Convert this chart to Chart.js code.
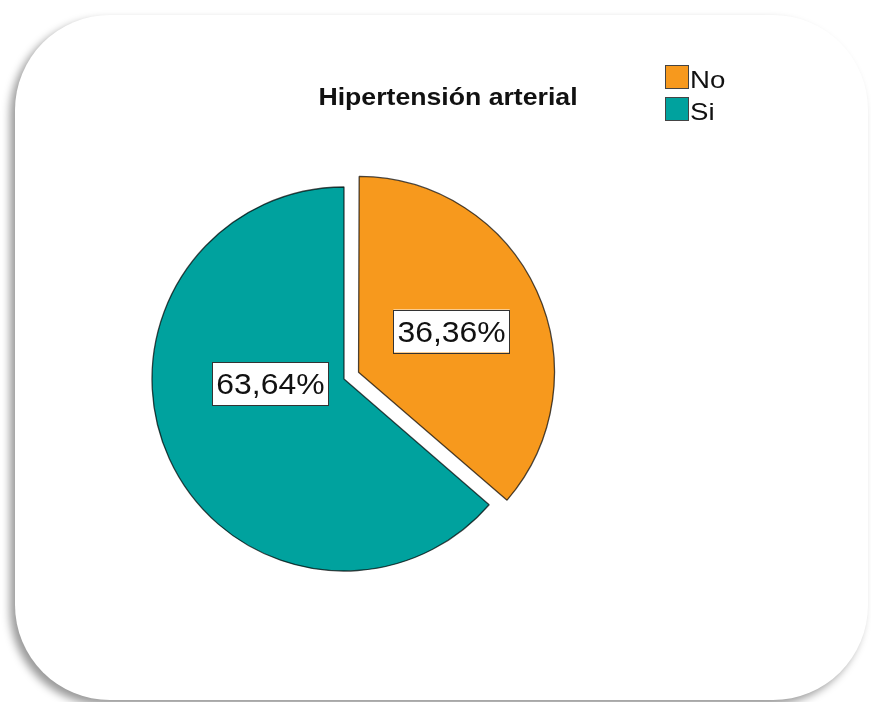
<!DOCTYPE html>
<html>
<head>
<meta charset="utf-8">
<script src="https://cdn.jsdelivr.net/npm/chart.js@4/dist/chart.umd.min.js"></script>
<style>
  html, body { margin: 0; padding: 0; background: #fff; }
  #card {
    position: absolute; left: 15px; top: 15px;
    width: 853px; height: 685px;
    border-radius: 95px; background: #fff;
    box-shadow: -5px 5px 9px rgba(0, 0, 0, 0.4);
  }
  #piechart { position: absolute; left: 0; top: 0; }
</style>
</head>
<body>
<div id="card"></div>
<canvas id="piechart" width="871" height="702"></canvas>
<script>
const titulo = 'Hipertensión arterial';
const categorias = ['No', 'Si'];
const porcentajes = [36.36, 63.64];
const colores = ['#f7991d', '#00a29e'];

// where each percentage box sits, relative to the pie centre (in radii)
const posEtiquetas = [[0.56, -0.25], [-0.383, 0.026]];

const fuente = '"Liberation Sans", Arial, sans-serif';

function texto(ctx, txt, x, y, font, sx, align) {
  ctx.save();
  ctx.font = font;
  ctx.translate(x, y);
  ctx.scale(sx, 1);
  ctx.textAlign = align;
  ctx.textBaseline = 'alphabetic';
  ctx.fillStyle = '#111';
  ctx.fillText(txt, 0, 0);
  ctx.restore();
}

const extras = {
  id: 'extras',
  afterDraw(chart) {
    const ctx = chart.ctx;
    const meta = chart.getDatasetMeta(0);
    const cx = (chart.chartArea.left + chart.chartArea.right) / 2;
    const cy = (chart.chartArea.top + chart.chartArea.bottom) / 2;
    const r = meta.data[0].outerRadius;

    // percentage boxes
    porcentajes.forEach((v, i) => {
      const txt = v.toFixed(2).replace('.', ',') + '%';
      const font = '29px ' + fuente;
      ctx.font = font;
      const w = ctx.measureText(txt).width * 1.1 + 8;
      const h = 43;
      const x = cx + posEtiquetas[i][0] * r;
      const y = cy + posEtiquetas[i][1] * r;
      ctx.fillStyle = '#fff';
      ctx.fillRect(x - w / 2, y - h / 2, w, h);
      ctx.strokeStyle = '#333';
      ctx.lineWidth = 1;
      ctx.strokeRect(Math.round(x - w / 2) + 0.5, Math.round(y - h / 2) + 0.5, Math.round(w), h);
      texto(ctx, txt, x, y + 10.5, font, 1.1, 'center');
    });

    // title
    texto(ctx, titulo, 448, 105, 'bold 24px ' + fuente, 1.11, 'center');

    // legend
    categorias.forEach((c, i) => {
      const y = 65 + i * 32;
      ctx.fillStyle = colores[i];
      ctx.fillRect(665, y, 23, 23);
      ctx.strokeStyle = '#444';
      ctx.lineWidth = 1;
      ctx.strokeRect(665.5, y + 0.5, 23, 23);
      texto(ctx, c, 690, y + 22.5, '24px ' + fuente, 1.15, 'left');
    });
  }
};

const ctx = document.getElementById('piechart');
new Chart(ctx, {
  type: 'pie',
  data: {
    labels: categorias,
    datasets: [{
      data: porcentajes,
      backgroundColor: colores,
      borderColor: 'rgba(0,0,0,0.7)',
      borderWidth: 1.3,
      offset: [64, 0]
    }]
  },
  options: {
    responsive: false,
    animation: false,
    events: [],
    radius: 192,
    layout: { padding: { left: 0, right: 183, top: 56, bottom: 0 } },
    plugins: {
      legend: { display: false },
      title: { display: false },
      tooltip: { enabled: false }
    }
  },
  plugins: [extras]
});
</script>
</body>
</html>
